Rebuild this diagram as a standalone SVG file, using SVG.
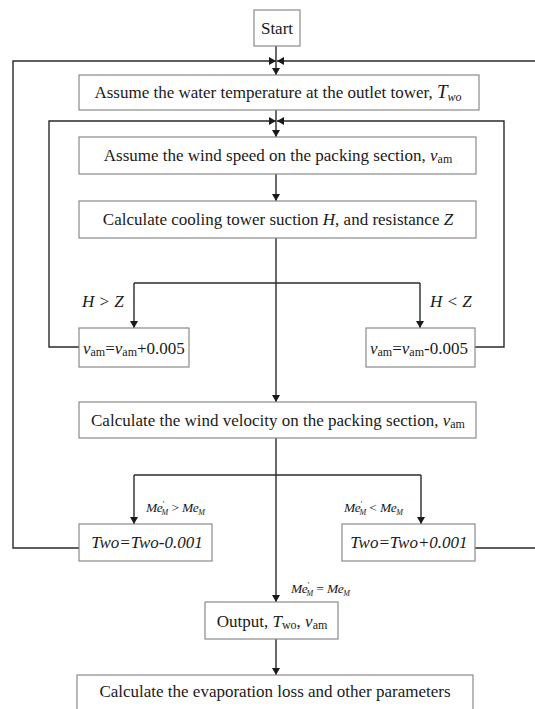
<svg xmlns="http://www.w3.org/2000/svg" width="535" height="709" viewBox="0 0 535 709">
<style>
.box{fill:#fff;stroke:#8a8a8a;stroke-width:1.2}
.ln{fill:none;stroke:#2a2a2a;stroke-width:1.4}
text{font-family:"Liberation Serif","Times New Roman",serif;fill:#1a1a1a}
.t{font-size:17px;text-anchor:middle}
.it{font-style:italic}
.lab{font-size:17px;font-style:italic}
.me{font-size:13.5px;font-style:italic}
.sub{font-size:12px}
</style>
<defs>
<marker id="ah" markerWidth="7" markerHeight="8" refX="7" refY="4" orient="auto" markerUnits="userSpaceOnUse">
<path d="M0,0 L7,4 L0,8 z" fill="#1a1a1a"/>
</marker>
</defs>
<rect width="535" height="709" fill="#fff"/>
<g id="connectors">
<line class="ln" x1="276" y1="46" x2="276" y2="75" marker-end="url(#ah)"/>
<polyline class="ln" points="79,548 13,548 13,61 276,61" marker-end="url(#ah)"/>
<polyline class="ln" points="475,548 540,548 540,61 277,61" marker-end="url(#ah)"/>
<line class="ln" x1="276" y1="110" x2="276" y2="137" marker-end="url(#ah)"/>
<polyline class="ln" points="79,347 49,347 49,121 276,121" marker-end="url(#ah)"/>
<polyline class="ln" points="475,347 504,347 504,121 277,121" marker-end="url(#ah)"/>
<line class="ln" x1="276" y1="174" x2="276" y2="201" marker-end="url(#ah)"/>
<line class="ln" x1="276" y1="238" x2="276" y2="402" marker-end="url(#ah)"/>
<line class="ln" x1="134" y1="283" x2="420" y2="283"/>
<line class="ln" x1="134" y1="283" x2="134" y2="328" marker-end="url(#ah)"/>
<line class="ln" x1="420" y1="283" x2="420" y2="328" marker-end="url(#ah)"/>
<line class="ln" x1="276" y1="438" x2="276" y2="602" marker-end="url(#ah)"/>
<line class="ln" x1="134" y1="475" x2="421" y2="475"/>
<line class="ln" x1="134" y1="475" x2="134" y2="524" marker-end="url(#ah)"/>
<line class="ln" x1="421" y1="475" x2="421" y2="524" marker-end="url(#ah)"/>
<line class="ln" x1="276" y1="639" x2="276" y2="675" marker-end="url(#ah)"/>
</g>
<g id="start">
<rect class="box" x="254" y="10" width="46" height="36"/>
<text class="t" x="277" y="34" font-size="16">Start</text>
</g>
<g id="assume-water">
<rect class="box" x="79" y="75" width="400" height="35"/>
<text class="t" x="278" y="98" font-size="16.5">Assume the water temperature at the outlet tower, <tspan class="it" font-size="19">T</tspan><tspan class="it" font-size="12" dy="3">wo</tspan></text>
</g>
<g id="assume-wind">
<rect class="box" x="79" y="137" width="397" height="37"/>
<text class="t" x="278" y="161">Assume the wind speed on the packing section, <tspan class="it">v</tspan><tspan class="sub" dy="2">am</tspan></text>
</g>
<g id="calc-suction">
<rect class="box" x="79" y="201" width="397" height="37"/>
<text class="t" x="278" y="225">Calculate cooling tower suction <tspan class="it">H</tspan>, and resistance <tspan class="it">Z</tspan></text>
</g>
<g id="labels-hz">
<text class="lab" x="82" y="307">H &gt; Z</text>
<text class="lab" x="430" y="307">H &lt; Z</text>
</g>
<g id="vam-plus">
<rect class="box" x="79" y="328" width="110" height="39"/>
<text x="83" y="354" font-size="17"><tspan class="it">v</tspan><tspan font-size="12" dy="2">am</tspan><tspan dy="-2">=</tspan><tspan class="it">v</tspan><tspan font-size="12" dy="2">am</tspan><tspan dy="-2">+0.005</tspan></text>
</g>
<g id="vam-minus">
<rect class="box" x="366" y="328" width="109" height="39"/>
<text x="370" y="354" font-size="17"><tspan class="it">v</tspan><tspan font-size="12" dy="2">am</tspan><tspan dy="-2">=</tspan><tspan class="it">v</tspan><tspan font-size="12" dy="2">am</tspan><tspan dy="-2">-0.005</tspan></text>
</g>
<g id="calc-velocity">
<rect class="box" x="79" y="402" width="397" height="36"/>
<text class="t" x="278" y="426">Calculate the wind velocity on the packing section, <tspan class="it">v</tspan><tspan class="sub" dy="2">am</tspan></text>
</g>
<g id="labels-me">
<text class="me" x="146" y="512" letter-spacing="-0.5">Me<tspan font-size="8" dy="-5">'</tspan><tspan font-size="8" dx="-2" dy="8">M</tspan><tspan dy="-3"> &gt; Me</tspan><tspan font-size="8" dy="3">M</tspan></text>
<text class="me" x="344" y="512" letter-spacing="-0.5">Me<tspan font-size="8" dy="-5">'</tspan><tspan font-size="8" dx="-2" dy="8">M</tspan><tspan dy="-3"> &lt; Me</tspan><tspan font-size="8" dy="3">M</tspan></text>
<text class="me" x="291" y="593" letter-spacing="-0.5">Me<tspan font-size="8" dy="-5">'</tspan><tspan font-size="8" dx="-2" dy="8">M</tspan><tspan dy="-3"> = Me</tspan><tspan font-size="8" dy="3">M</tspan></text>
</g>
<g id="two-minus">
<rect class="box" x="79" y="524" width="133" height="37"/>
<text class="lab" x="147" y="548" text-anchor="middle" font-size="16.5">Two=Two-0.001</text>
</g>
<g id="two-plus">
<rect class="box" x="342" y="524" width="133" height="37"/>
<text class="lab" x="409" y="548" text-anchor="middle" font-size="16.5">Two=Two+0.001</text>
</g>
<g id="output">
<rect class="box" x="205" y="602" width="133" height="37"/>
<text class="t" x="272" y="627">Output, <tspan class="it">T</tspan><tspan class="sub" dy="2">wo</tspan><tspan dy="-2">, </tspan><tspan class="it">v</tspan><tspan class="sub" dy="2">am</tspan></text>
</g>
<g id="calc-evap">
<rect class="box" x="77" y="675" width="396" height="42"/>
<text class="t" x="275" y="697">Calculate the evaporation loss and other parameters</text>
</g>
</svg>
